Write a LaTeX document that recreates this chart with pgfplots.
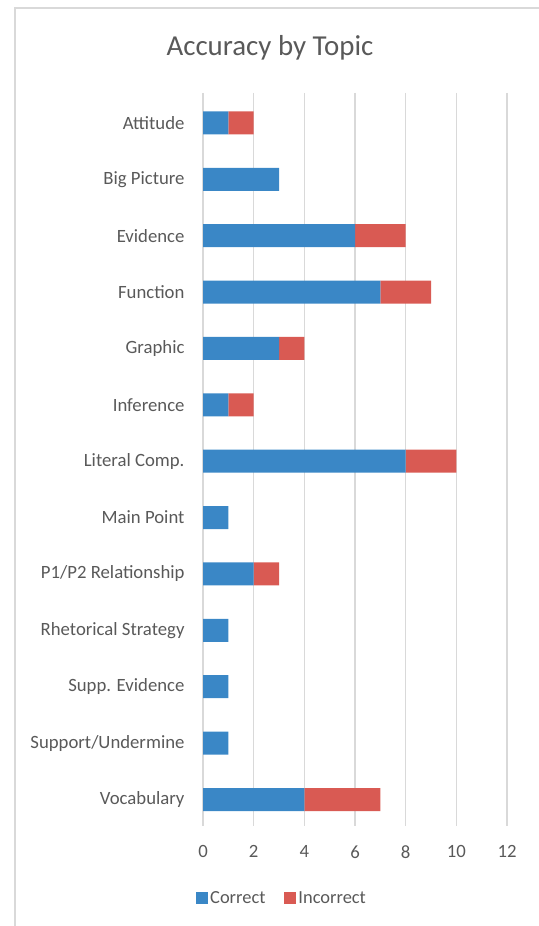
\documentclass[border=0pt]{standalone}
\usepackage{fontspec}
\setmainfont{Carlito}
\usepackage{pgfplots}
\pgfplotsset{compat=1.18}
\definecolor{cblue}{HTML}{3A87C6}
\definecolor{cred}{HTML}{D95A53}
\definecolor{txt}{HTML}{595959}
\definecolor{gridc}{HTML}{D9D9D9}

\begin{document}
\begin{tikzpicture}[x=1bp,y=1bp]
\useasboundingbox (0,0) rectangle (539,926);
\draw[gridc, line width=1.2bp] (15,0) -- (15,918) -- (539,918);
\node[txt, font=\fontsize{29}{34}\selectfont] at (270,878) {Accuracy by Topic};
\begin{axis}[
  at={(203bp,100bp)}, anchor=south west,
  width=304bp, height=733bp, scale only axis,
  xbar stacked, bar width=23bp,
  xmin=0, xmax=12, ymin=-0.53, ymax=12.47, y dir=reverse,
  xtick={0,2,...,12},
  ytick={0,...,12},
  yticklabels={Attitude, Big Picture, Evidence, Function, Graphic, Inference,
    Literal Comp., Main Point, P1/P2 Relationship, Rhetorical Strategy,
    Supp. Evidence, Support/Undermine, Vocabulary},
  axis line style={draw=none}, major tick length=0pt,
  xmajorgrids, grid style={gridc, line width=1.2bp},
  /pgf/number format/assume math mode=true,
  tick label style={txt, font=\fontsize{18.8}{22}\selectfont},
  x tick label style={yshift=-16bp},
  y tick label style={xshift=-15bp},
  legend style={at={(0.26,-0.098)}, anchor=center, draw=none,
    legend columns=2, font=\fontsize{18.5}{22}\selectfont, text=txt,
    /tikz/every even column/.append style={column sep=17bp}},
  legend image code/.code={\fill[#1] (0bp,-6bp) rectangle (12bp,6bp);},
]
\addplot[fill=cblue, draw=none] coordinates {
  (1,0) (3,1) (6,2) (7,3) (3,4) (1,5) (8,6) (1,7) (2,8) (1,9) (1,10) (1,11) (4,12)};
\addplot[fill=cred, draw=none] coordinates {
  (1,0) (0,1) (2,2) (2,3) (1,4) (1,5) (2,6) (0,7) (1,8) (0,9) (0,10) (0,11) (3,12)};
\legend{Correct, Incorrect}
\end{axis}
\end{tikzpicture}
\end{document}
